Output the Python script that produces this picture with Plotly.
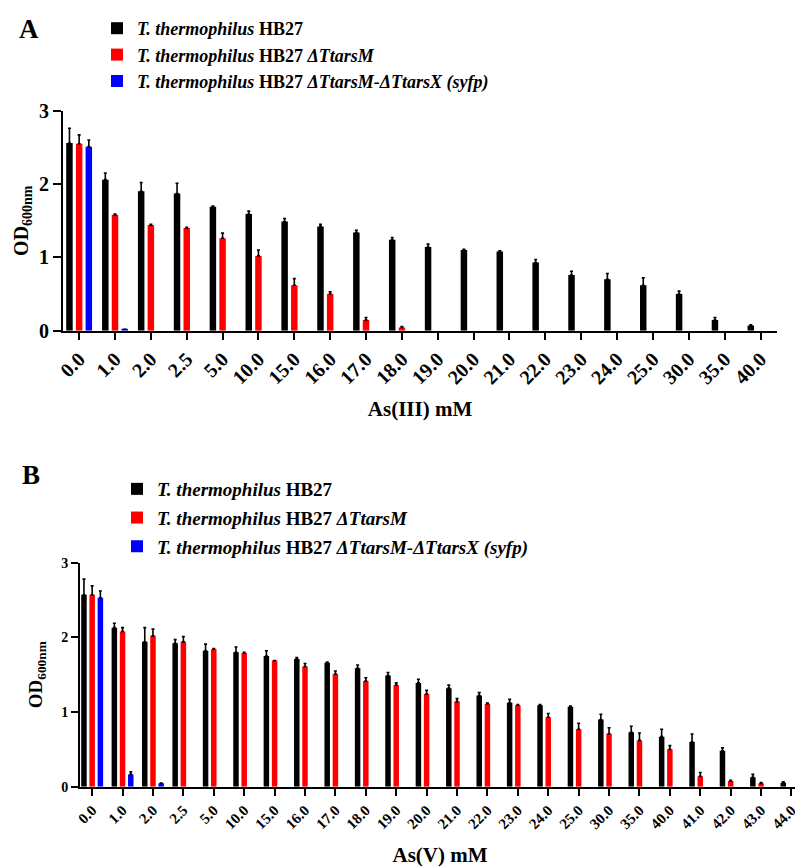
import plotly.graph_objects as go

# ---------------- Panel A data: As(III) ----------------
cats_A = ["0.0", "1.0", "2.0", "2.5", "5.0", "10.0", "15.0", "16.0", "17.0", "18.0",
          "19.0", "20.0", "21.0", "22.0", "23.0", "24.0", "25.0", "30.0", "35.0", "40.0"]
wt_A = [2.56, 2.06, 1.90, 1.87, 1.69, 1.59, 1.49, 1.42, 1.34, 1.24,
        1.14, 1.10, 1.08, 0.93, 0.76, 0.70, 0.62, 0.50, 0.145, 0.07]
wt_A_err = [0.20, 0.09, 0.12, 0.14, 0.01, 0.04, 0.04, 0.03, 0.03, 0.03,
            0.04, 0.01, 0.01, 0.04, 0.05, 0.08, 0.10, 0.04, 0.035, 0.01]
dM_A = [2.55, 1.58, 1.44, 1.40, 1.26, 1.02, 0.62, 0.50, 0.145, 0.045,
        None, None, None, None, None, None, None, None, None, None]
dM_A_err = [0.12, 0.01, 0.01, 0.01, 0.07, 0.08, 0.09, 0.03, 0.035, 0.01,
            None, None, None, None, None, None, None, None, None, None]
dMX_A = [2.51, 0.02] + [None] * 18
dMX_A_err = [0.09, 0.0] + [None] * 18

# ---------------- Panel B data: As(V) ----------------
cats_B = ["0.0", "1.0", "2.0", "2.5", "5.0", "10.0", "15.0", "16.0", "17.0", "18.0",
          "19.0", "20.0", "21.0", "22.0", "23.0", "24.0", "25.0", "30.0", "35.0", "40.0",
          "41.0", "42.0", "43.0", "44.0"]
wt_B = [2.57, 2.13, 1.94, 1.92, 1.82, 1.80, 1.75, 1.71, 1.66, 1.585,
        1.49, 1.39, 1.32, 1.22, 1.125, 1.09, 1.07, 0.90, 0.73, 0.67,
        0.60, 0.48, 0.125, 0.054]
wt_B_err = [0.21, 0.06, 0.19, 0.05, 0.09, 0.07, 0.07, 0.02, 0.01, 0.045,
            0.04, 0.05, 0.04, 0.04, 0.045, 0.01, 0.01, 0.07, 0.08, 0.10,
            0.105, 0.04, 0.04, 0.01]
dM_B = [2.57, 2.08, 2.02, 1.94, 1.84, 1.79, 1.69, 1.61, 1.51, 1.415,
        1.36, 1.24, 1.14, 1.11, 1.09, 0.93, 0.77, 0.71, 0.62, 0.50,
        0.14, 0.076, 0.045, None]
dM_B_err = [0.12, 0.05, 0.09, 0.07, 0.01, 0.01, 0.0, 0.04, 0.04, 0.045,
            0.03, 0.05, 0.04, 0.01, 0.01, 0.05, 0.08, 0.08, 0.10, 0.05,
            0.05, 0.01, 0.01, None]
dMX_B = [2.53, 0.165, 0.045] + [None] * 21
dMX_B_err = [0.09, 0.035, 0.005] + [None] * 21

names = ["<i>T. thermophilus</i> HB27",
         "<i>T. thermophilus</i> HB27 <i>ΔTtarsM</i>",
         "<i>T. thermophilus</i> HB27 <i>ΔTtarsM-ΔTtarsX (syfp)</i>"]
colors = ["#000000", "#ff0000", "#0000ff"]

FONT = "Liberation Serif"
OFF = 8                      # page body margin
W, H = 803 - OFF, 868 - OFF  # figure size inside the window

fig = go.Figure()


def add_panel(cats, series, errs, xa, ya, legend, grp):
    for i, (vals, err) in enumerate(zip(series, errs)):
        fig.add_trace(go.Bar(
            x=cats, y=vals, name=names[i], marker_color=colors[i],
            marker_line_width=0,
            error_y=dict(type="data", array=err, arrayminus=[0] * len(err),
                         symmetric=False, color="#000000", thickness=1.6, width=1.5),
            xaxis=xa, yaxis=ya, legend=legend, legendgroup=grp + str(i),
            offsetgroup=str(i),
        ))


add_panel(cats_A, [wt_A, dM_A, dMX_A], [wt_A_err, dM_A_err, dMX_A_err], "x", "y", "legend", "a")
add_panel(cats_B, [wt_B, dM_B, dMX_B], [wt_B_err, dM_B_err, dMX_B_err], "x2", "y2", "legend2", "b")


def px_x(p):
    return (p - OFF) / W


def px_y(p):
    return 1 - (p - OFF) / H


axis_common = dict(showline=True, linecolor="black", linewidth=2, ticks="outside",
                   tickcolor="black", tickwidth=2, showgrid=False, zeroline=False,
                   mirror=False, automargin=False)

fig.update_layout(
    width=W, height=H,
    margin=dict(l=0, r=0, t=0, b=0, autoexpand=False),
    paper_bgcolor="white", plot_bgcolor="white",
    barmode="group", bargap=0.19, bargroupgap=0.33,
    font=dict(family=FONT, color="black"),
    xaxis=dict(domain=[px_x(63), px_x(777)], anchor="y", range=[-0.45, 19.46],
               tickangle=-45, ticklen=7,
               tickfont=dict(family=FONT, size=20, color="black", weight="bold"),
               title=dict(text="<b>As(III) mM</b>", font=dict(size=21), standoff=14),
               **axis_common),
    yaxis=dict(domain=[px_y(330.7), px_y(110.7)], anchor="x", range=[0, 3],
               tickvals=[0, 1, 2, 3], ticklen=8,
               tickfont=dict(family=FONT, size=20, color="black", weight="bold"),
               title=dict(text="<b>OD<sub>600nm</sub></b>", font=dict(size=20), standoff=5),
               **axis_common),
    xaxis2=dict(domain=[px_x(80), px_x(800)], anchor="y2", range=[-0.4, 23.28],
                tickangle=-45, ticklen=7,
                tickfont=dict(family=FONT, size=15, color="black", weight="bold"),
                title=dict(text="<b>As(V) mM</b>", font=dict(size=21), standoff=16),
                **axis_common),
    yaxis2=dict(domain=[px_y(786.7), px_y(562.7)], anchor="x2", range=[0, 3],
                tickvals=[0, 1, 2, 3], ticklen=7,
                tickfont=dict(family=FONT, size=14, color="black", weight="bold"),
                title=dict(text="<b>OD<sub>600nm</sub></b>", font=dict(size=19), standoff=14),
                **axis_common),
    legend=dict(x=px_x(97), y=px_y(10), xanchor="left", yanchor="top",
                font=dict(family=FONT, size=18, color="black", weight="bold"),
                bgcolor="rgba(0,0,0,0)", tracegroupgap=0, itemwidth=30),
    legend2=dict(x=px_x(117), y=px_y(470), xanchor="left", yanchor="top",
                 font=dict(family=FONT, size=19, color="black", weight="bold"),
                 bgcolor="rgba(0,0,0,0)", tracegroupgap=1, itemwidth=30),
    annotations=[
        dict(text="<b>A</b>", x=px_x(29), y=px_y(29), xref="paper", yref="paper",
             xanchor="center", yanchor="middle",
             showarrow=False, font=dict(family=FONT, size=27, color="black")),
        dict(text="<b>B</b>", x=px_x(31), y=px_y(475), xref="paper", yref="paper",
             xanchor="center", yanchor="middle",
             showarrow=False, font=dict(family=FONT, size=27, color="black")),
    ],
)

fig.write_html("out.html")
